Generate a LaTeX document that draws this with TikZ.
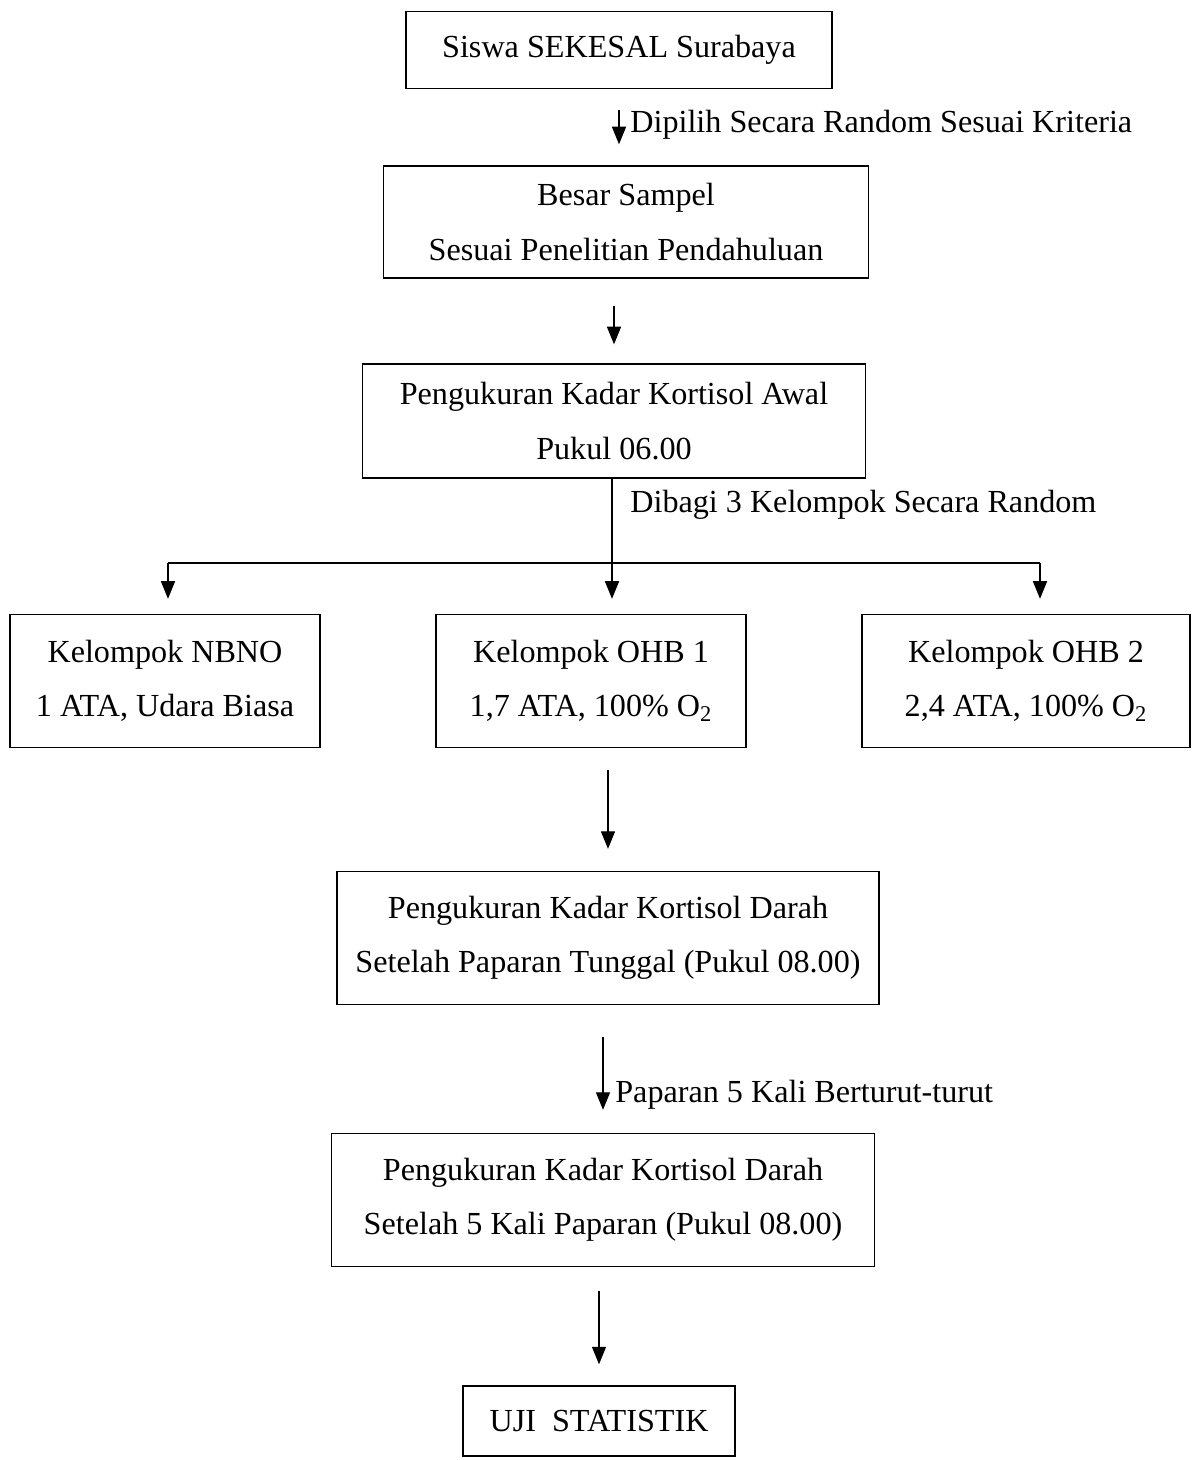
\documentclass[tikz,border=0pt]{standalone}
\usepackage{fontspec}
\setmainfont{Liberation Serif}
\usepackage{tikz}
\usetikzlibrary{arrows.meta,positioning,calc}

\begin{document}
\begin{tikzpicture}[x=0.02cm,y=-0.02cm,
    box/.style={draw,line width=0.8pt,inner sep=0pt,align=center,
      font=\fontsize{18.3}{31}\selectfont},
    arr/.style={line width=0.7pt,-{Triangle[width=8pt,length=10pt]}},
    lbl/.style={anchor=west,inner sep=0pt,font=\fontsize{18.3}{21}\selectfont}]
  \useasboundingbox (0,0) rectangle (1191,1460);

  % --- population and sample --------------------------------------------
  \node[box,minimum width=8.52cm,minimum height=1.54cm] (siswa) at (619,50)
    {Siswa SEKESAL Surabaya};
  \node[box,minimum width=9.70cm,minimum height=2.24cm] (sampel) at (626,222)
    {Besar Sampel\\Sesuai Penelitian Pendahuluan};
  \node[box,minimum width=10.06cm,minimum height=2.28cm] (awal) at (614,421)
    {Pengukuran Kadar Kortisol Awal\\Pukul 06.00};

  \draw[arr,shorten <=0.42cm,shorten >=0.42cm] (siswa.south) -- (siswa.south |- sampel.north);
  \node[lbl] (pilih) at (630,125) {Dipilih Secara Random Sesuai Kriteria};
  \draw[arr,shorten <=0.54cm,shorten >=0.38cm] (awal.north |- sampel.south) -- (awal.north);

  % --- three groups -----------------------------------------------------
  \node[box,minimum width=6.20cm,minimum height=2.66cm] (nbno) at (165,681)
    {Kelompok NBNO\\1 ATA, Udara Biasa};
  \node[box,minimum width=6.20cm,minimum height=2.66cm] (ohbA) at (591,681)
    {Kelompok OHB 1\\1,7 ATA, 100\% O\textsubscript{2}};
  \node[box,minimum width=6.56cm,minimum height=2.66cm] (ohbB) at (1026,681)
    {Kelompok OHB 2\\2,4 ATA, 100\% O\textsubscript{2}};

  \coordinate (bagi) at (612,478);
  \coordinate (kiri) at (168,563);
  \coordinate (kanan) at (1040,563);
  \draw[arr,shorten >=0.3cm] (bagi) -- (bagi |- ohbA.north);
  \node[lbl] (dibagi) at (630,505) {Dibagi 3 Kelompok Secara Random};
  \draw[line width=0.7pt] (kiri) -- (kanan);
  \draw[arr,shorten >=0.3cm] (kiri) -- (kiri |- nbno.north);
  \draw[arr,shorten >=0.3cm] (kanan) -- (kanan |- ohbB.north);

  % --- measurements after exposure --------------------------------------
  \node[box,minimum width=10.84cm,minimum height=2.66cm] (darahA) at (608,938)
    {Pengukuran Kadar Kortisol Darah\\Setelah Paparan Tunggal (Pukul 08.00)};
  \node[box,minimum width=10.86cm,minimum height=2.66cm] (darahB) at (603,1200)
    {Pengukuran Kadar Kortisol Darah\\Setelah 5 Kali Paparan (Pukul 08.00)};
  \node[box,minimum width=5.44cm,minimum height=1.40cm] (uji) at (599,1421)
    {UJI\ \ STATISTIK};

  \draw[arr,shorten <=0.44cm,shorten >=0.44cm] (darahA.north |- ohbA.south) -- (darahA.north);
  \draw[arr,shorten <=0.64cm,shorten >=0.46cm] (darahB.north |- darahA.south) -- (darahB.north);
  \node[lbl] (paparan) at (615,1095) {Paparan 5 Kali Berturut-turut};
  \draw[arr,shorten <=0.48cm,shorten >=0.42cm] (uji.north |- darahB.south) -- (uji.north);
\end{tikzpicture}
\end{document}
